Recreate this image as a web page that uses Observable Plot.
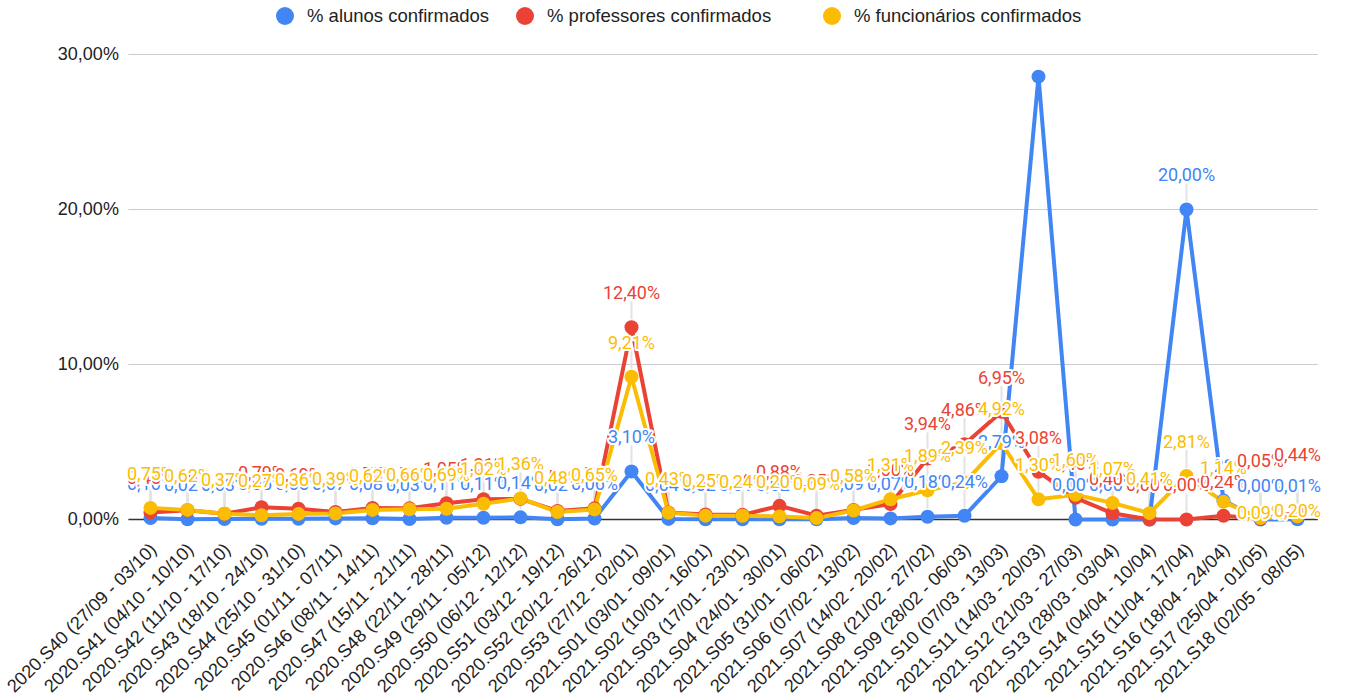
<!DOCTYPE html>
<html><head><meta charset="utf-8">
<script src="https://cdn.jsdelivr.net/npm/d3@7"></script>
<script src="https://cdn.jsdelivr.net/npm/@observablehq/plot@0.6"></script>
<style>
body{margin:0;background:#fff;}
#wrap{position:relative;width:1348px;height:696px;overflow:hidden;}
#legend{position:absolute;top:0;left:0;width:1348px;height:32px;font-family:Arial,"Liberation Sans",sans-serif;font-size:18.5px;color:#222;z-index:2;}
.item{position:absolute;top:0;height:32px;display:flex;align-items:center;white-space:nowrap;}
.sw{width:18px;height:18px;border-radius:50%;margin-right:13px;flex:none;}
</style></head>
<body><div id="wrap"><div id="legend"></div><div id="chart"></div></div>
<script>
const weeks = [
  "2020.S40 (27/09 - 03/10)","2020.S41 (04/10 - 10/10)","2020.S42 (11/10 - 17/10)","2020.S43 (18/10 - 24/10)",
  "2020.S44 (25/10 - 31/10)","2020.S45 (01/11 - 07/11)","2020.S46 (08/11 - 14/11)","2020.S47 (15/11 - 21/11)",
  "2020.S48 (22/11 - 28/11)","2020.S49 (29/11 - 05/12)","2020.S50 (06/12 - 12/12)","2020.S51 (03/12 - 19/12)",
  "2020.S52 (20/12 - 26/12)","2020.S53 (27/12 - 02/01)","2021.S01 (03/01 - 09/01)","2021.S02 (10/01 - 16/01)",
  "2021.S03 (17/01 - 23/01)","2021.S04 (24/01 - 30/01)","2021.S05 (31/01 - 06/02)","2021.S06 (07/02 - 13/02)",
  "2021.S07 (14/02 - 20/02)","2021.S08 (21/02 - 27/02)","2021.S09 (28/02 - 06/03)","2021.S10 (07/03 - 13/03)",
  "2021.S11 (14/03 - 20/03)","2021.S12 (21/03 - 27/03)","2021.S13 (28/03 - 03/04)","2021.S14 (04/04 - 10/04)",
  "2021.S15 (11/04 - 17/04)","2021.S16 (18/04 - 24/04)","2021.S17 (25/04 - 01/05)","2021.S18 (02/05 - 08/05)"
];
const alunos = [0.10,0.02,0.03,0.05,0.05,0.07,0.08,0.03,0.11,0.11,0.14,0.02,0.06,3.10,0.04,0.02,
  0.01,0.02,0.01,0.09,0.07,0.18,0.24,2.79,28.57,0.00,0.00,0.00,20.00,1.22,0.00,0.01];
const professores = [0.45,0.60,0.37,0.79,0.69,0.48,0.75,0.72,1.05,1.31,1.33,0.55,0.72,12.40,0.45,0.33,
  0.30,0.88,0.25,0.62,1.00,3.94,4.86,6.95,3.08,1.40,0.40,0.00,0.00,0.24,0.05,0.44];
const funcionarios = [0.75,0.62,0.37,0.27,0.36,0.39,0.62,0.66,0.69,1.02,1.36,0.48,0.65,9.21,0.43,0.25,
  0.24,0.20,0.09,0.58,1.31,1.89,2.39,4.92,1.30,1.60,1.07,0.41,2.81,1.14,0.09,0.20];
const seriesNames = ["% alunos confirmados","% professores confirmados","% funcionários confirmados"];
const seriesColors = ["#4285F4","#EA4335","#FBBC04"];
const yTicks = [0,10,20,30];

const seriesValues = [alunos, professores, funcionarios];
const rows = [];
seriesNames.forEach((name, s) => {
  seriesValues[s].forEach((v, i) => rows.push({week: weeks[i], value: v, series: name, s, i}));
});
const fmt = v => v.toFixed(2).replace(".", ",") + "%";
const lastCats = 2; // the two last weeks get relocated labels
const fitsTop = d => d.value <= 27.5; // labels that would leave the plot area are hidden
const main = rows.filter(d => d.i < weeks.length - lastCats && fitsTop(d));
const tail = rows.filter(d => d.i >= weeks.length - lastCats);

const leader = {draw(ctx) { ctx.moveTo(0, -8); ctx.lineTo(0, -26); }};
const labelOpts = {x: "week", y: "value", text: d => fmt(d.value), fill: "series", stroke: "white",
  strokeWidth: 4, paintOrder: "stroke", fontSize: 18, fontFamily: "Roboto", textAnchor: "middle"};

const chart = Plot.plot({
  width: 1348, height: 696,
  marginTop: 54, marginBottom: 177, marginLeft: 128.4, marginRight: 30.2,
  style: {fontFamily: "Arial, 'Liberation Sans', sans-serif", color: "#222", background: "transparent", overflow: "visible"},
  x: {type: "point", domain: weeks, padding: 0.5},
  y: {domain: [0, 30]},
  color: {domain: seriesNames, range: seriesColors},
  marks: [
    Plot.ruleY(yTicks.filter(t => t !== 0), {stroke: "#cccccc", strokeWidth: 1}),
    Plot.dot(rows.filter(fitsTop), {x: "week", y: "value", symbol: leader, stroke: "#e2e2e2", strokeWidth: 2, fill: "none"}),
    Plot.ruleY([0], {stroke: "#333", strokeWidth: 1.5}),
    Plot.line(rows, {x: "week", y: "value", z: "series", stroke: "series", strokeWidth: 4}),
    Plot.dot(rows, {x: "week", y: "value", fill: "series", r: 7}),
    Plot.text(main, {...labelOpts, dy: -34}),
    Plot.text(tail.filter(d => d.s === 0), {...labelOpts, dy: -33}),
    Plot.text(tail.filter(d => d.s === 1), {...labelOpts, dy: -57}),
    Plot.text(tail.filter(d => d.s === 2), {...labelOpts, dy: -5}),
    Plot.axisY({ticks: yTicks, tickFormat: fmt, tickSize: 0, tickPadding: 10, fontSize: 18, label: null}),
    Plot.axisX({tickRotate: -45, tickSize: 0, tickPadding: 14, dx: 3, dy: 13, fontSize: 18.2, label: null})
  ]
});
document.getElementById("chart").appendChild(chart);

const legend = document.getElementById("legend");
const legendLeft = [276, 516, 823];
seriesNames.forEach((n, k) => {
  const it = document.createElement("div"); it.className = "item"; it.style.left = legendLeft[k] + "px";
  const sw = document.createElement("span"); sw.className = "sw"; sw.style.background = seriesColors[k];
  const tx = document.createElement("span"); tx.textContent = n;
  it.appendChild(sw); it.appendChild(tx); legend.appendChild(it);
});
</script>
</body></html>
